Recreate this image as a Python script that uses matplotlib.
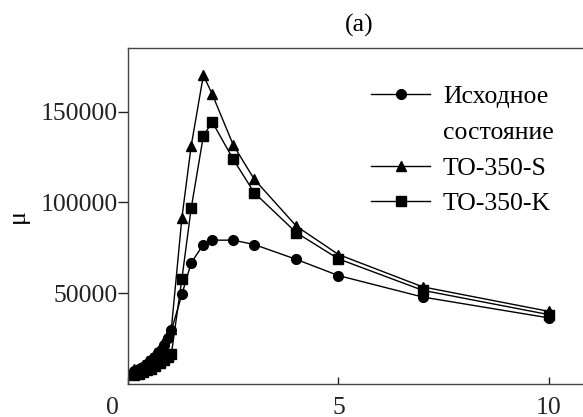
import matplotlib
matplotlib.use("Agg")
import matplotlib.pyplot as plt
import matplotlib.transforms as mtransforms

plt.rcParams['font.family'] = ['Liberation Serif', 'DejaVu Serif']

# field values (same grid for all three curves)
h = [0.15, 0.25, 0.35, 0.45, 0.55, 0.65, 0.75, 0.85, 0.95, 1.03,
     1.28, 1.5, 1.79, 2.0, 2.5, 3.0, 4.0, 5.0, 7.0, 10.0]

mu_initial = [7000, 8000, 9500, 11000, 13000, 15000, 18000, 21500, 25500, 29500,
              49300, 66700, 76800, 79200, 79200, 76800, 68600, 59700, 47900, 36400]
mu_to350s = [8000, 9000, 10500, 12500, 14500, 17000, 20000, 23500, 27000, 30500,
             91500, 131000, 170000, 159600, 131600, 112700, 86900, 71300, 53500, 40000]
mu_to350k = [5000, 5500, 6500, 7500, 8500, 10000, 11500, 13000, 15000, 16500,
             57900, 96700, 136600, 144300, 123700, 105300, 83300, 68900, 51600, 38200]

x_ticks = [0, 5, 10]
y_ticks = [50000, 100000, 150000]

fs = 18.5

fig = plt.figure(figsize=(5.83, 4.17), dpi=100)
ax = fig.add_axes([0.2196, 0.0791, 0.7941, 0.8058])

ax.plot(h, mu_initial, '-o', color='black', lw=1, ms=7, label='Исходное')
ax.plot([], [], ' ', label='состояние')
ax.plot(h, mu_to350s, '-^', color='black', lw=1, ms=7.5, label='TO-350-S')
ax.plot(h, mu_to350k, '-s', color='black', lw=1, ms=6.5, label='TO-350-K')

ax.set_xlim(0, 11)
ax.set_ylim(0, 185000)
ax.set_xticks(x_ticks)
ax.set_xticklabels([str(t) for t in x_ticks])
ax.set_yticks(y_ticks)
ax.set_yticklabels([str(t) for t in y_ticks])

ax.tick_params(axis='x', direction='in', length=5, width=1, pad=9,
               labelsize=fs, colors='#222222')
ax.tick_params(axis='y', direction='out', length=7, width=1, pad=0.5,
               labelsize=fs, colors='#222222')

# "0" sits left of the corner
lbl0 = ax.get_xticklabels()[0]
lbl0.set_transform(lbl0.get_transform() +
                   mtransforms.ScaledTranslation(-16 / 100, 0, fig.dpi_scale_trans))

for s in ax.spines.values():
    s.set_color('#444444')
    s.set_linewidth(1)

ax.set_ylabel('μ', fontsize=fs, labelpad=8)
ax.set_title('(a)', fontsize=fs, pad=12)

leg = ax.legend(loc='upper left', bbox_to_anchor=(0.525, 0.89), frameon=False,
                fontsize=fs, handlelength=2.3, handletextpad=0.5,
                labelspacing=0.5, borderpad=0, borderaxespad=0)

fig.savefig('out.png', dpi=100)
